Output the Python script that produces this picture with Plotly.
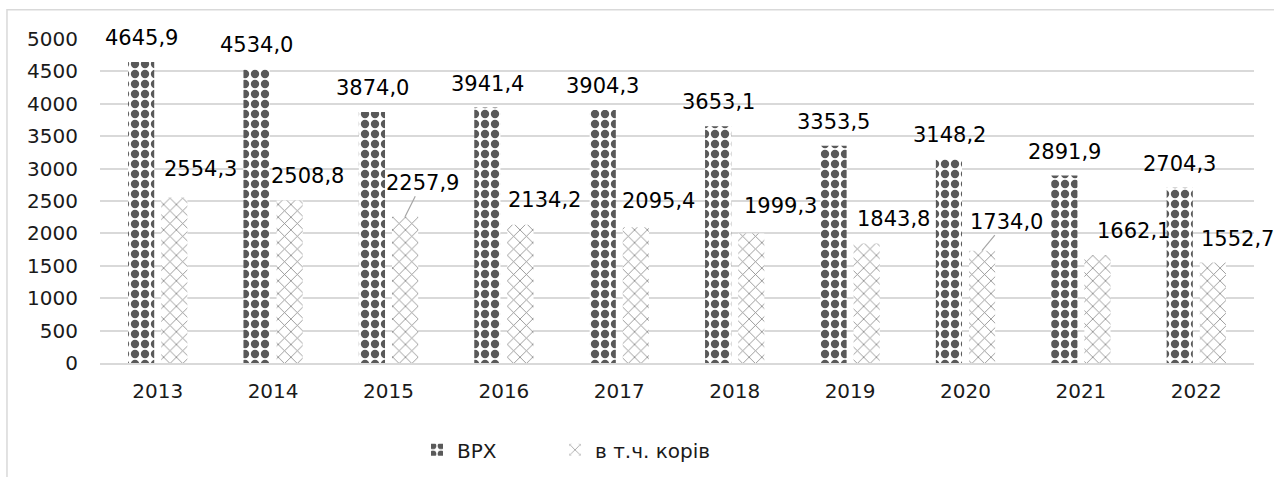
import plotly.graph_objects as go

years = ["2013", "2014", "2015", "2016", "2017", "2018", "2019", "2020", "2021", "2022"]
vrh = [4645.9, 4534.0, 3874.0, 3941.4, 3904.3, 3653.1, 3353.5, 3148.2, 2891.9, 2704.3]
cows = [2554.3, 2508.8, 2257.9, 2134.2, 2095.4, 1999.3, 1843.8, 1734.0, 1662.1, 1552.7]
series_names = ["ВРХ", "в т.ч. корів"]
y_ticks = [0, 500, 1000, 1500, 2000, 2500, 3000, 3500, 4000, 4500, 5000]

# label layout offsets (pixels)
cow_label_dx = [26, 18, 17, 24, 23, 29, 27, 24, 36, 25]
cow_label_dy = [28, 24, 34, 25, 26, 27, 25, 29, 24, 23]
cow_leader = [False, False, True, False, False, False, False, True, False, False]

FONT = "DejaVu Sans"

def fmt(v):
    return f"{v:.1f}".replace(".", ",")

fig = go.Figure()
fig.add_trace(go.Bar(
    x=years, y=vrh, name=series_names[0], legend="legend",
    marker=dict(color="white", line=dict(width=0),
                pattern=dict(shape=".", fgcolor="#595959", bgcolor="white", fgopacity=1,
                             size=10, solidity=0.55, fillmode="overlay")),
))
fig.add_trace(go.Bar(
    x=years, y=cows, name=series_names[1], legend="legend2",
    marker=dict(color="white", line=dict(width=0),
                pattern=dict(shape="x", fgcolor="#8c8c8c", bgcolor="white", fgopacity=1,
                             size=9, solidity=0.18, fillmode="overlay")),
))

half = 16.5
annotations = []
for i, v in enumerate(vrh):
    annotations.append(dict(x=i, y=v, xref="x", yref="y", text=fmt(v),
                            showarrow=False, xshift=-half, yshift=24,
                            font=dict(family=FONT, size=21, color="#000")))
for i, (v, dx, dy, lead) in enumerate(zip(cows, cow_label_dx, cow_label_dy, cow_leader)):
    if lead:
        annotations.append(dict(x=i, y=v, xref="x", yref="y", text=fmt(v),
                                showarrow=True, arrowhead=0, arrowwidth=1.2,
                                arrowcolor="#a6a6a6", ax=dx, ay=-dy, xshift=half,
                                standoff=0, startstandoff=0,
                                font=dict(family=FONT, size=21, color="#000")))
    else:
        annotations.append(dict(x=i, y=v, xref="x", yref="y", text=fmt(v),
                                showarrow=False, xshift=half + dx, yshift=dy,
                                font=dict(family=FONT, size=21, color="#000")))

leg_common = dict(orientation="h", yanchor="middle", y=-0.268, xanchor="left",
                  font=dict(family=FONT, size=20, color="#1a1a1a"),
                  bgcolor="rgba(0,0,0,0)")

fig.update_layout(
    width=1274, height=477,
    margin=dict(l=100, r=20, t=39, b=114, autoexpand=False),
    paper_bgcolor="white", plot_bgcolor="white",
    barmode="group", bargap=0.426, bargroupgap=0.21,
    font=dict(family=FONT, size=20, color="#1a1a1a"),
    showlegend=True,
    legend=dict(x=0.2747, **leg_common),
    legend2=dict(x=0.3943, **leg_common),
    annotations=annotations,
    shapes=[dict(type="rect", xref="paper", yref="paper",
                 x0=-0.0806, x1=1.05, y0=-0.40, y1=1.0906,
                 line=dict(color="#d9d9d9", width=1.5), fillcolor="rgba(0,0,0,0)",
                 layer="below")],
)
fig.update_xaxes(type="category", range=[-0.5, 9.5], showgrid=False, showline=True,
                 linecolor="#d9d9d9", linewidth=1.5, ticks="", ticklabelstandoff=9,
                 automargin=False,
                 tickfont=dict(family=FONT, size=20, color="#1a1a1a"))
fig.update_yaxes(range=[0, 5000], tickvals=y_ticks, showgrid=True, gridcolor="#d9d9d9",
                 gridwidth=1.5, zeroline=False, showline=False, ticks="",
                 ticklabelstandoff=21, automargin=False,
                 tickfont=dict(family=FONT, size=20, color="#1a1a1a"))

fig.write_html("out.html", config={"displayModeBar": False},
               post_script="document.body.style.margin='0';document.body.style.overflow='hidden';")
